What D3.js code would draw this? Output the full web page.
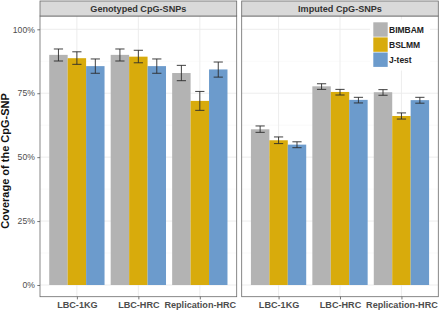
<!DOCTYPE html>
<html><head><meta charset="utf-8">
<script src="https://cdn.jsdelivr.net/npm/d3@7"></script>
<style>body{margin:0;background:#fff}svg{display:block;font-family:"Liberation Sans",Arial,sans-serif}</style>
</head><body><svg id="c" width="441" height="311"></svg>
<script>
const panels = ["Genotyped CpG-SNPs", "Imputed CpG-SNPs"];
const categories = ["LBC-1KG", "LBC-HRC", "Replication-HRC"];
const methods = ["BIMBAM", "BSLMM", "J-test"];
const colors = ["#B3B3B3", "#D8AB0C", "#6C9BCC"];
const yTicks = [0, 25, 50, 75, 100];
// values [panel][category][method]
const coverage = [
  [[90.0, 88.7, 85.6], [90.0, 89.3, 85.6], [82.9, 72.0, 84.3]],
  [[60.9, 56.6, 54.9], [77.7, 75.5, 72.4], [75.4, 66.1, 72.3]]
];
const lower = [
  [[87.6, 86.3, 82.8], [87.6, 86.9, 82.8], [79.9, 68.3, 81.3]],
  [[59.7, 55.3, 53.7], [76.5, 74.3, 71.2], [74.2, 64.9, 71.1]]
];
const upper = [
  [[92.3, 91.2, 88.4], [92.3, 91.8, 88.4], [85.9, 75.7, 87.2]],
  [[62.2, 57.9, 56.0], [78.7, 76.5, 73.4], [76.4, 67.3, 73.4]]
];

const svg = d3.select("#c");
const panelX = [[40, 236.7], [241.7, 438.3]];
const panelTop = 16, panelBottom = 296.7, stripTop = 1;
const y = d3.scaleLinear().domain([0, 100]).range([285, 29.3]);

panels.forEach((p, pi) => {
  const [x0, x1] = panelX[pi];
  const x = d3.scalePoint().domain(categories).range([x0, x1]).padding(0.6);
  const step = x.step();
  const g = svg.append("g");
  g.append("rect").attr("x", x0).attr("y", panelTop).attr("width", x1 - x0).attr("height", panelBottom - panelTop).attr("fill", "#fff");
  [12.5, 37.5, 62.5, 87.5].forEach(v => g.append("line").attr("x1", x0).attr("x2", x1).attr("y1", y(v)).attr("y2", y(v)).attr("stroke", "#F3F3F3").attr("stroke-width", 0.5));
  yTicks.forEach(v => g.append("line").attr("x1", x0).attr("x2", x1).attr("y1", y(v)).attr("y2", y(v)).attr("stroke", "#EBEBEB").attr("stroke-width", 0.9));
  categories.forEach(c => g.append("line").attr("x1", x(c)).attr("x2", x(c)).attr("y1", panelTop).attr("y2", panelBottom).attr("stroke", "#EBEBEB").attr("stroke-width", 0.9));
  const bw = step * 0.9 / 3;
  categories.forEach((c, ci) => {
    methods.forEach((m, mi) => {
      const cx = x(c) - step * 0.45 + bw * (mi + 0.5);
      g.append("rect").attr("x", cx - bw / 2).attr("y", y(coverage[pi][ci][mi]))
        .attr("width", bw).attr("height", y(0) - y(coverage[pi][ci][mi])).attr("fill", colors[mi]);
    });
  });
  categories.forEach((c, ci) => {
    methods.forEach((m, mi) => {
      const cx = x(c) - step * 0.45 + bw * (mi + 0.5);
      const hw = bw * 0.25;
      const lo = y(lower[pi][ci][mi]), hi = y(upper[pi][ci][mi]);
      const e = g.append("g").attr("stroke", "#2b2b2b").attr("stroke-width", 0.9);
      e.append("line").attr("x1", cx).attr("x2", cx).attr("y1", lo).attr("y2", hi);
      e.append("line").attr("x1", cx - hw).attr("x2", cx + hw).attr("y1", lo).attr("y2", lo);
      e.append("line").attr("x1", cx - hw).attr("x2", cx + hw).attr("y1", hi).attr("y2", hi);
    });
  });
  g.append("rect").attr("x", x0).attr("y", panelTop).attr("width", x1 - x0).attr("height", panelBottom - panelTop).attr("fill", "none").attr("stroke", "#6a6a6a").attr("stroke-width", 0.8);
  g.append("rect").attr("x", x0).attr("y", stripTop).attr("width", x1 - x0).attr("height", panelTop - stripTop).attr("fill", "#D9D9D9").attr("stroke", "#6a6a6a").attr("stroke-width", 0.8);
  g.append("text").attr("x", (x0 + x1) / 2).attr("y", (stripTop + panelTop) / 2 + 3.2).attr("text-anchor", "middle")
    .attr("font-size", 9.1).attr("font-weight", "bold").attr("fill", "#333").text(p);
  const xa = g.append("g").attr("transform", `translate(0,${panelBottom})`)
    .call(d3.axisBottom(x).tickSize(2.7).tickPadding(2));
  xa.select(".domain").remove();
  xa.selectAll("line").attr("stroke", "#555").attr("stroke-width", 0.8);
  xa.selectAll("text").attr("font-size", 9.1).attr("fill", "#4D4D4D").attr("font-family", "Liberation Sans, Arial, sans-serif").attr("font-weight", "bold");
  if (pi === 0) {
    const ya = g.append("g").attr("transform", `translate(${x0},0)`)
      .call(d3.axisLeft(y).tickValues(yTicks).tickFormat(d => d + "%").tickSize(2.7).tickPadding(2.5));
    ya.select(".domain").remove();
    ya.selectAll("line").attr("stroke", "#555").attr("stroke-width", 0.8);
    ya.selectAll("text").attr("font-size", 8.6).attr("fill", "#4D4D4D").attr("font-family", "Liberation Sans, Arial, sans-serif");
  }
});

svg.append("text").attr("transform", `translate(8.5,161) rotate(-90)`)
  .attr("text-anchor", "middle").attr("font-size", 11).attr("font-weight", "bold").attr("fill", "#111")
  .text("Coverage of the CpG-SNP");

const lg = svg.append("g");
lg.append("rect").attr("x", 370).attr("y", 19.5).attr("width", 60).attr("height", 51).attr("fill", "#fff");
methods.forEach((m, i) => {
  const ky = 22.3 + i * 15.1;
  lg.append("rect").attr("x", 373.3).attr("y", ky).attr("width", 14.4).attr("height", 14.4).attr("fill", colors[i]);
  lg.append("text").attr("x", 389).attr("y", ky + 10.3).attr("font-size", 8.5).attr("font-weight", "bold").attr("fill", "#222").text(m);
});
</script></body></html>
